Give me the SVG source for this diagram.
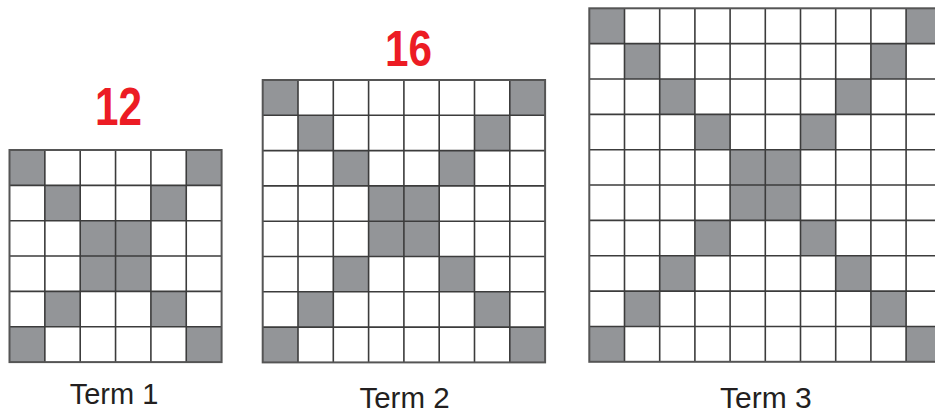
<svg xmlns="http://www.w3.org/2000/svg" width="935" height="415" viewBox="0 0 935 415">
<style>
.bg{fill:#ffffff}
.sh{fill:#939598}
.ln{fill:none;stroke:#3c3c3c;stroke-width:1.6}
.bd{fill:none;stroke:#555555;stroke-width:2}
.lbl{font-family:"Liberation Sans",Arial,sans-serif;fill:#231f20;text-anchor:middle}
.hw{font-family:"Liberation Sans",Arial,sans-serif;font-weight:bold;fill:#ec1c24}
</style>
<rect x="0" y="0" width="935" height="415" fill="#ffffff"/>

<g id="term1">
<rect class="bg" x="9.5" y="150" width="212.1" height="212.1"/>
<rect class="sh" x="9.5" y="150" width="35.35" height="35.35"/>
<rect class="sh" x="186.25" y="150" width="35.35" height="35.35"/>
<rect class="sh" x="44.85" y="185.35" width="35.35" height="35.35"/>
<rect class="sh" x="150.9" y="185.35" width="35.35" height="35.35"/>
<rect class="sh" x="80.2" y="220.7" width="70.7" height="70.7"/>
<rect class="sh" x="44.85" y="291.4" width="35.35" height="35.35"/>
<rect class="sh" x="150.9" y="291.4" width="35.35" height="35.35"/>
<rect class="sh" x="9.5" y="326.75" width="35.35" height="35.35"/>
<rect class="sh" x="186.25" y="326.75" width="35.35" height="35.35"/>
<path class="ln" d="M44.85 150V362.1M80.2 150V362.1M115.55 150V362.1M150.9 150V362.1M186.25 150V362.1M9.5 185.35H221.6M9.5 220.7H221.6M9.5 256.05H221.6M9.5 291.4H221.6M9.5 326.75H221.6"/>
<rect class="bd" x="9.5" y="150" width="212.1" height="212.1"/>
<text class="lbl" x="114" y="404.3" font-size="29">Term 1</text>
</g>

<g id="term2">
<rect class="bg" x="262.7" y="80" width="282.4" height="282.4"/>
<rect class="sh" x="262.7" y="80" width="35.3" height="35.3"/>
<rect class="sh" x="509.8" y="80" width="35.3" height="35.3"/>
<rect class="sh" x="298" y="115.3" width="35.3" height="35.3"/>
<rect class="sh" x="474.5" y="115.3" width="35.3" height="35.3"/>
<rect class="sh" x="333.3" y="150.6" width="35.3" height="35.3"/>
<rect class="sh" x="439.2" y="150.6" width="35.3" height="35.3"/>
<rect class="sh" x="368.6" y="185.9" width="70.6" height="70.6"/>
<rect class="sh" x="333.3" y="256.5" width="35.3" height="35.3"/>
<rect class="sh" x="439.2" y="256.5" width="35.3" height="35.3"/>
<rect class="sh" x="298" y="291.8" width="35.3" height="35.3"/>
<rect class="sh" x="474.5" y="291.8" width="35.3" height="35.3"/>
<rect class="sh" x="262.7" y="327.1" width="35.3" height="35.3"/>
<rect class="sh" x="509.8" y="327.1" width="35.3" height="35.3"/>
<path class="ln" d="M298 80V362.4M333.3 80V362.4M368.6 80V362.4M403.9 80V362.4M439.2 80V362.4M474.5 80V362.4M509.8 80V362.4M262.7 115.3H545.1M262.7 150.6H545.1M262.7 185.9H545.1M262.7 221.2H545.1M262.7 256.5H545.1M262.7 291.8H545.1M262.7 327.1H545.1"/>
<rect class="bd" x="262.7" y="80" width="282.4" height="282.4"/>
<text class="lbl" x="404.5" y="408" font-size="29.5">Term 2</text>
</g>

<g id="term3">
<rect class="bg" x="589.3" y="8.3" width="352" height="353.5"/>
<rect class="sh" x="589.3" y="8.3" width="35.2" height="35.35"/>
<rect class="sh" x="906.1" y="8.3" width="35.2" height="35.35"/>
<rect class="sh" x="624.5" y="43.65" width="35.2" height="35.35"/>
<rect class="sh" x="870.9" y="43.65" width="35.2" height="35.35"/>
<rect class="sh" x="659.7" y="79" width="35.2" height="35.35"/>
<rect class="sh" x="835.7" y="79" width="35.2" height="35.35"/>
<rect class="sh" x="694.9" y="114.35" width="35.2" height="35.35"/>
<rect class="sh" x="800.5" y="114.35" width="35.2" height="35.35"/>
<rect class="sh" x="730.1" y="149.7" width="70.4" height="70.7"/>
<rect class="sh" x="694.9" y="220.4" width="35.2" height="35.35"/>
<rect class="sh" x="800.5" y="220.4" width="35.2" height="35.35"/>
<rect class="sh" x="659.7" y="255.75" width="35.2" height="35.35"/>
<rect class="sh" x="835.7" y="255.75" width="35.2" height="35.35"/>
<rect class="sh" x="624.5" y="291.1" width="35.2" height="35.35"/>
<rect class="sh" x="870.9" y="291.1" width="35.2" height="35.35"/>
<rect class="sh" x="589.3" y="326.45" width="35.2" height="35.35"/>
<rect class="sh" x="906.1" y="326.45" width="35.2" height="35.35"/>
<path class="ln" d="M624.5 8.3V361.8M659.7 8.3V361.8M694.9 8.3V361.8M730.1 8.3V361.8M765.3 8.3V361.8M800.5 8.3V361.8M835.7 8.3V361.8M870.9 8.3V361.8M906.1 8.3V361.8M589.3 43.65H941.3M589.3 79H941.3M589.3 114.35H941.3M589.3 149.7H941.3M589.3 185.05H941.3M589.3 220.4H941.3M589.3 255.75H941.3M589.3 291.1H941.3M589.3 326.45H941.3"/>
<rect class="bd" x="589.3" y="8.3" width="352" height="353.5"/>
<text class="lbl" x="765.8" y="407.5" font-size="30">Term 3</text>
</g>

<g id="annotations">
<text class="hw" x="95" y="125" font-size="54" textLength="47" lengthAdjust="spacingAndGlyphs">12</text>
<text class="hw" x="385" y="66" font-size="50" textLength="47" lengthAdjust="spacingAndGlyphs">16</text>
</g>

<g id="connectors"></g>
</svg>
